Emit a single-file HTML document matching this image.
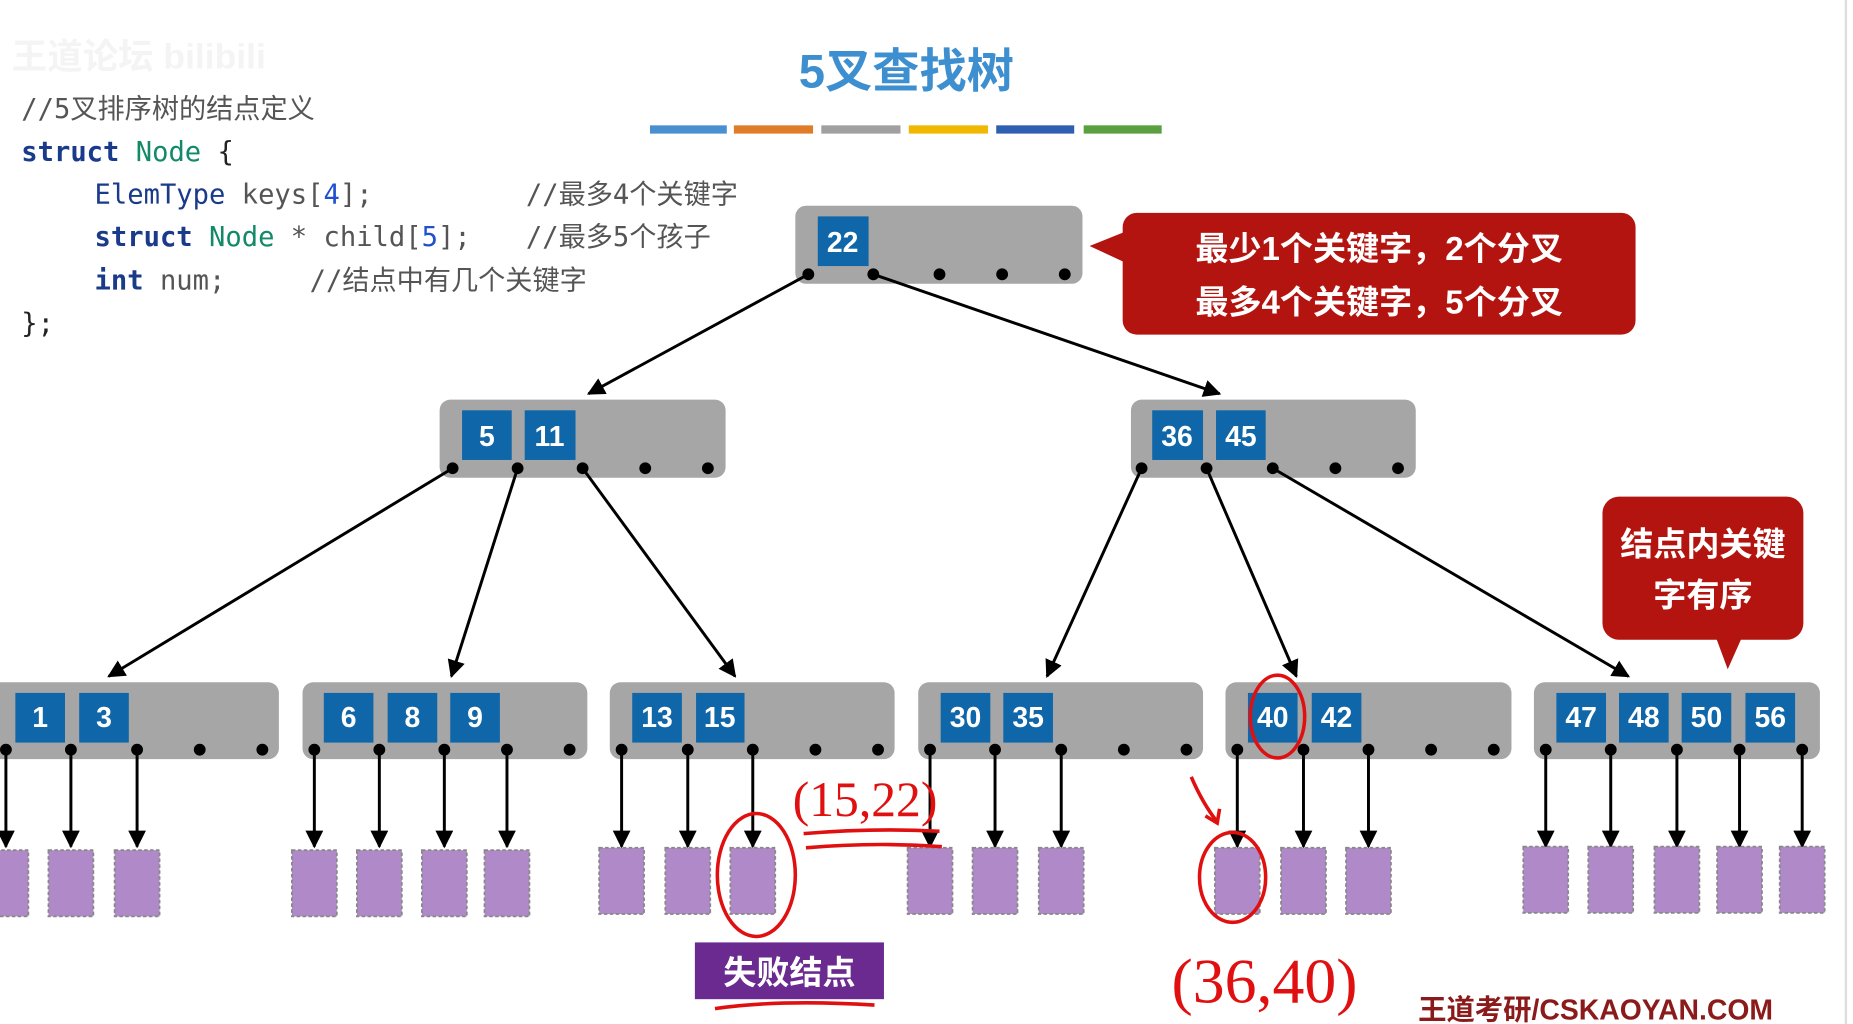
<!DOCTYPE html>
<html><head><meta charset="utf-8"><style>
html,body{margin:0;padding:0;background:#fff;width:1853px;height:1024px;overflow:hidden}
svg{display:block}
.code{font-family:"DejaVu Sans Mono","Liberation Mono","Noto Sans CJK SC",monospace;font-size:23px}
.k{fill:#fff;font-family:"Liberation Sans",sans-serif;font-weight:bold;font-size:24px;text-anchor:middle}
.cj{font-family:"Liberation Sans","Noto Sans CJK SC",sans-serif;font-weight:bold}
</style></head><body>
<svg width="1853" height="1024" viewBox="0 0 1568 866" preserveAspectRatio="none" xmlns="http://www.w3.org/2000/svg">
<defs>
<marker id="a" viewBox="0 0 10 10" refX="9" refY="5" markerWidth="6" markerHeight="6" orient="auto"><path d="M0,0L10,5L0,10z" fill="#000"/></marker>
</defs>
<text x="10" y="58" class="cj" font-size="30" fill="#f4f4f4">王道论坛 bilibili</text>
<text x="767" y="74" class="cj" font-size="40" fill="#3d8fcf" text-anchor="middle">5叉查找树</text>
<rect x="550" y="106" width="65" height="7" fill="#4a90d0"/>
<rect x="621" y="106" width="67" height="7" fill="#e07b2a"/>
<rect x="695" y="106" width="67" height="7" fill="#a0a0a0"/>
<rect x="769" y="106" width="67" height="7" fill="#f0b800"/>
<rect x="843" y="106" width="66" height="7" fill="#2e5fb0"/>
<rect x="917" y="106" width="66" height="7" fill="#5aa040"/>
<g class="code">
<text x="18" y="100" fill="#555">//5叉排序树的结点定义</text>
<text x="18" y="136"><tspan fill="#1a3a8a" font-weight="bold">struct</tspan> <tspan fill="#128a6a">Node</tspan> <tspan fill="#222">{</tspan></text>
<text x="80" y="172"><tspan fill="#1a3a8a">ElemType</tspan> <tspan fill="#555">keys[</tspan><tspan fill="#2050d0">4</tspan><tspan fill="#555">];</tspan></text>
<text x="445" y="172" fill="#555">//最多4个关键字</text>
<text x="80" y="208"><tspan fill="#1a3a8a" font-weight="bold">struct</tspan> <tspan fill="#128a6a">Node</tspan> <tspan fill="#555">* child[</tspan><tspan fill="#2050d0">5</tspan><tspan fill="#555">];</tspan></text>
<text x="445" y="208" fill="#555">//最多5个孩子</text>
<text x="80" y="245"><tspan fill="#1a3a8a" font-weight="bold">int</tspan> <tspan fill="#555">num;</tspan></text>
<text x="262" y="245" fill="#555">//结点中有几个关键字</text>
<text x="18" y="281" fill="#222">};</text>
</g>
<g fill="#a6a6a6">
<rect x="673" y="174" width="243" height="66" rx="9"/>
<rect x="372" y="338" width="242" height="66" rx="9"/>
<rect x="957" y="338" width="241" height="66" rx="9"/>
<rect x="-10" y="577" width="246" height="65" rx="9"/>
<rect x="256" y="577" width="241" height="65" rx="9"/>
<rect x="516" y="577" width="241" height="65" rx="9"/>
<rect x="777" y="577" width="241" height="65" rx="9"/>
<rect x="1037" y="577" width="242" height="65" rx="9"/>
<rect x="1298" y="577" width="242" height="65" rx="9"/>
</g>
<g fill="#0f66a8">
<rect x="692" y="183" width="43" height="42"/>
<rect x="391" y="347" width="42" height="42"/><rect x="444" y="347" width="43" height="42"/>
<rect x="975" y="347" width="43" height="42"/><rect x="1029" y="347" width="42" height="42"/>
<rect x="13" y="586" width="42" height="42"/><rect x="67" y="586" width="42" height="42"/>
<rect x="274" y="586" width="42" height="42"/><rect x="328" y="586" width="42" height="42"/><rect x="381" y="586" width="42" height="42"/>
<rect x="535" y="586" width="42" height="42"/><rect x="589" y="586" width="41" height="42"/>
<rect x="796" y="586" width="42" height="42"/><rect x="849" y="586" width="42" height="42"/>
<rect x="1056" y="586" width="42" height="42"/><rect x="1110" y="586" width="42" height="42"/>
<rect x="1317" y="586" width="42" height="42"/><rect x="1370" y="586" width="42" height="42"/><rect x="1423" y="586" width="42" height="42"/><rect x="1477" y="586" width="42" height="42"/>
</g>
<g class="k">
<text x="713" y="213">22</text>
<text x="412" y="377">5</text><text x="465" y="377">11</text>
<text x="996" y="377">36</text><text x="1050" y="377">45</text>
<text x="34" y="615">1</text><text x="88" y="615">3</text>
<text x="295" y="615">6</text><text x="349" y="615">8</text><text x="402" y="615">9</text>
<text x="556" y="615">13</text><text x="609" y="615">15</text>
<text x="817" y="615">30</text><text x="870" y="615">35</text>
<text x="1077" y="615">40</text><text x="1131" y="615">42</text>
<text x="1338" y="615">47</text><text x="1391" y="615">48</text><text x="1444" y="615">50</text><text x="1498" y="615">56</text>
</g>
<g fill="#000">
<circle cx="684" cy="232" r="5"/><circle cx="739" cy="232" r="5"/><circle cx="795" cy="232" r="5"/><circle cx="848" cy="232" r="5"/><circle cx="901" cy="232" r="5"/>
<circle cx="383" cy="396" r="5"/><circle cx="438" cy="396" r="5"/><circle cx="493" cy="396" r="5"/><circle cx="546" cy="396" r="5"/><circle cx="599" cy="396" r="5"/>
<circle cx="966" cy="396" r="5"/><circle cx="1021" cy="396" r="5"/><circle cx="1077" cy="396" r="5"/><circle cx="1130" cy="396" r="5"/><circle cx="1183" cy="396" r="5"/>
<circle cx="5" cy="634" r="5"/><circle cx="60" cy="634" r="5"/><circle cx="116" cy="634" r="5"/><circle cx="169" cy="634" r="5"/><circle cx="222" cy="634" r="5"/>
<circle cx="266" cy="634" r="5"/><circle cx="321" cy="634" r="5"/><circle cx="376" cy="634" r="5"/><circle cx="429" cy="634" r="5"/><circle cx="482" cy="634" r="5"/>
<circle cx="526" cy="634" r="5"/><circle cx="582" cy="634" r="5"/><circle cx="637" cy="634" r="5"/><circle cx="690" cy="634" r="5"/><circle cx="743" cy="634" r="5"/>
<circle cx="787" cy="634" r="5"/><circle cx="842" cy="634" r="5"/><circle cx="898" cy="634" r="5"/><circle cx="951" cy="634" r="5"/><circle cx="1004" cy="634" r="5"/>
<circle cx="1047" cy="634" r="5"/><circle cx="1103" cy="634" r="5"/><circle cx="1158" cy="634" r="5"/><circle cx="1211" cy="634" r="5"/><circle cx="1264" cy="634" r="5"/>
<circle cx="1308" cy="634" r="5"/><circle cx="1363" cy="634" r="5"/><circle cx="1419" cy="634" r="5"/><circle cx="1472" cy="634" r="5"/><circle cx="1525" cy="634" r="5"/>
</g>
<g stroke="#000" stroke-width="2.5" marker-end="url(#a)">
<line x1="684" y1="232" x2="498" y2="333"/><line x1="739" y1="232" x2="1032" y2="333"/>
<line x1="383" y1="396" x2="92" y2="572"/><line x1="438" y1="396" x2="382" y2="572"/><line x1="493" y1="396" x2="622" y2="572"/>
<line x1="966" y1="396" x2="886" y2="572"/><line x1="1021" y1="396" x2="1097" y2="572"/><line x1="1077" y1="396" x2="1378" y2="572"/>
<line x1="5" y1="634" x2="5" y2="716"/><line x1="60" y1="634" x2="60" y2="716"/><line x1="116" y1="634" x2="116" y2="716"/>
<line x1="266" y1="634" x2="266" y2="716"/><line x1="321" y1="634" x2="321" y2="716"/><line x1="376" y1="634" x2="376" y2="716"/><line x1="429" y1="634" x2="429" y2="716"/>
<line x1="526" y1="634" x2="526" y2="716"/><line x1="582" y1="634" x2="582" y2="716"/><line x1="637" y1="634" x2="637" y2="716"/>
<line x1="787" y1="634" x2="787" y2="716"/><line x1="842" y1="634" x2="842" y2="716"/><line x1="898" y1="634" x2="898" y2="716"/>
<line x1="1047" y1="634" x2="1047" y2="716"/><line x1="1103" y1="634" x2="1103" y2="716"/><line x1="1158" y1="634" x2="1158" y2="716"/>
<line x1="1308" y1="634" x2="1308" y2="716"/><line x1="1363" y1="634" x2="1363" y2="716"/><line x1="1419" y1="634" x2="1419" y2="716"/><line x1="1472" y1="634" x2="1472" y2="716"/><line x1="1525" y1="634" x2="1525" y2="716"/>
</g>
<g fill="#b08ac8" stroke="#888" stroke-width="1.5" stroke-dasharray="3,2">
<rect x="-14" y="719" width="38" height="56"/><rect x="41" y="719" width="38" height="56"/><rect x="97" y="719" width="38" height="56"/>
<rect x="247" y="719" width="38" height="56"/><rect x="302" y="719" width="38" height="56"/><rect x="357" y="719" width="38" height="56"/><rect x="410" y="719" width="38" height="56"/>
<rect x="507" y="717" width="38" height="56"/><rect x="563" y="717" width="38" height="56"/><rect x="618" y="717" width="38" height="56"/>
<rect x="768" y="717" width="38" height="56"/><rect x="823" y="717" width="38" height="56"/><rect x="879" y="717" width="38" height="56"/>
<rect x="1028" y="717" width="38" height="56"/><rect x="1084" y="717" width="38" height="56"/><rect x="1139" y="717" width="38" height="56"/>
<rect x="1289" y="716" width="38" height="56"/><rect x="1344" y="716" width="38" height="56"/><rect x="1400" y="716" width="38" height="56"/><rect x="1453" y="716" width="38" height="56"/><rect x="1506" y="716" width="38" height="56"/>
</g>
<rect x="950" y="180" width="434" height="103" rx="12" fill="#b3140f"/>
<path d="M952,196L922,208L952,222z" fill="#b3140f"/>
<text x="1167" y="220" class="cj" font-size="28" fill="#fff" text-anchor="middle">最少1个关键字，2个分叉</text>
<text x="1167" y="265" class="cj" font-size="28" fill="#fff" text-anchor="middle">最多4个关键字，5个分叉</text>
<rect x="1356" y="420" width="170" height="121" rx="14" fill="#b3140f"/>
<path d="M1452,539L1462,566L1474,539z" fill="#b3140f"/>
<text x="1441" y="470" class="cj" font-size="28" fill="#fff" text-anchor="middle">结点内关键</text>
<text x="1441" y="513" class="cj" font-size="28" fill="#fff" text-anchor="middle">字有序</text>
<rect x="588" y="797" width="160" height="48" fill="#6a2a90"/>
<text x="668" y="832" class="cj" font-size="28" fill="#fff" text-anchor="middle">失败结点</text>
<g fill="none" stroke="#e01010" stroke-width="3">
<ellipse cx="1081" cy="606" rx="23" ry="35"/>
<ellipse cx="640" cy="740" rx="33" ry="52"/>
<ellipse cx="1043" cy="742" rx="28" ry="38"/>
<path d="M680,705Q740,700 795,703"/><path d="M682,717Q740,712 797,716"/>
<path d="M1008,657Q1018,680 1030,695M1020,690L1030,696L1032,684"/>
<path d="M605,853Q660,845 740,850"/>
</g>
<text x="732" y="690" font-family="Liberation Serif,serif" font-size="42" fill="#e01010" text-anchor="middle">(15,22)</text>
<text x="1070" y="848" font-family="Liberation Serif,serif" font-size="54" fill="#e01010" text-anchor="middle">(36,40)</text>
<text x="1200" y="862" class="cj" font-size="24" font-weight="normal" fill="#8b1a1a">王道考研/CSKAOYAN.COM</text>
<line x1="1562" y1="0" x2="1562" y2="866" stroke="#ddd" stroke-width="2"/>
</svg>
</body></html>
